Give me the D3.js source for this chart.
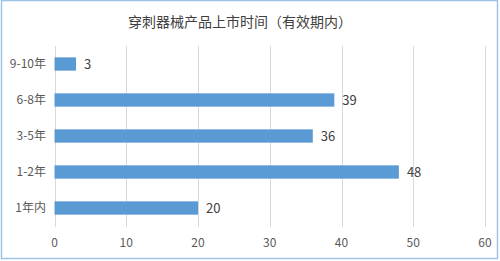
<!DOCTYPE html>
<html>
<head>
<meta charset="utf-8">
<script src="https://cdn.jsdelivr.net/npm/d3@7"></script>
<style>
  body { margin: 0; background: #fff; }
  svg { display: block; }
</style>
</head>
<body>
<svg id="chart" width="500" height="261"></svg>
<script>
const categories = ['9-10年', '6-8年', '3-5年', '1-2年', '1年内'];
const values = [3, 39, 36, 48, 20];
const ticks = [0, 10, 20, 30, 40, 50, 60];
const title = '穿刺器械产品上市时间（有效期内）';

const svg = d3.select('#chart');
const font = "'Noto Sans CJK SC', 'Noto Sans', sans-serif";

// chart frame
svg.append('rect')
  .attr('x', 1.5).attr('y', 0.5)
  .attr('width', 496).attr('height', 258)
  .attr('fill', '#fff')
  .attr('stroke', '#9dc3e6')
  .attr('stroke-width', 1.5);

const x = d3.scaleLinear().domain([0, 60]).range([54.5, 485]);
const y = d3.scaleBand().domain(categories).range([46, 226]).paddingInner(0.63).paddingOuter(0.315);

svg.append('text')
  .attr('x', 240).attr('y', 27)
  .attr('text-anchor', 'middle')
  .style('font-family', font)
  .style('font-size', '14px')
  .attr('fill', '#404040')
  .text(title);

// gridlines
svg.append('g')
  .selectAll('line')
  .data(ticks)
  .enter()
  .append('line')
  .attr('x1', d => Math.round(x(d)) + 0.5)
  .attr('x2', d => Math.round(x(d)) + 0.5)
  .attr('y1', 46).attr('y2', 227)
  .attr('stroke', '#d9d9d9')
  .attr('stroke-width', 1);

// x tick labels
svg.append('g')
  .selectAll('text')
  .data(ticks)
  .enter()
  .append('text')
  .attr('x', d => x(d))
  .attr('y', 247)
  .attr('text-anchor', 'middle')
  .style('font-family', font)
  .style('font-size', '12px')
  .attr('fill', '#595959')
  .text(d => d);

// category labels
svg.append('g')
  .selectAll('text')
  .data(categories)
  .enter()
  .append('text')
  .attr('x', 46)
  .attr('y', d => y(d) + y.bandwidth() / 2 + 4)
  .attr('text-anchor', 'end')
  .style('font-family', font)
  .style('font-size', '12px')
  .attr('fill', '#595959')
  .text(d => d);

// bars
svg.append('g')
  .selectAll('rect')
  .data(values)
  .enter()
  .append('rect')
  .attr('x', x(0))
  .attr('y', (d, i) => y(categories[i]))
  .attr('width', d => x(d) - x(0))
  .attr('height', y.bandwidth())
  .attr('fill', '#5b9bd5');

// value labels
svg.append('g')
  .selectAll('text')
  .data(values)
  .enter()
  .append('text')
  .attr('x', d => x(d) + 8)
  .attr('y', (d, i) => y(categories[i]) + y.bandwidth() / 2 + 4.5)
  .style('font-family', font)
  .style('font-size', '13px')
  .attr('fill', '#404040')
  .text(d => d);
</script>
</body>
</html>
